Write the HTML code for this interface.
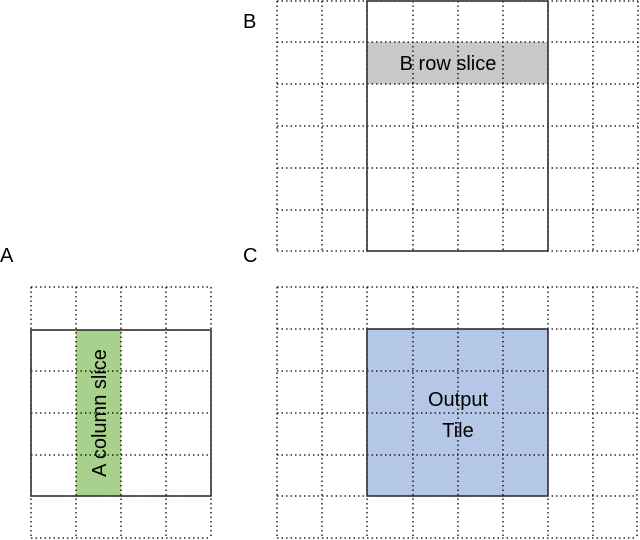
<!DOCTYPE html>
<html><head><style>html,body{margin:0;padding:0;background:#fff}svg{display:block}</style></head>
<body>
<svg width="640" height="540" viewBox="0 0 640 540" xmlns="http://www.w3.org/2000/svg" font-family="'Liberation Sans', sans-serif">
<rect x="367" y="42" width="181" height="42" fill="#c8c8c8"/>
<rect x="76" y="330" width="45" height="166" fill="#a9d18e"/>
<rect x="367" y="329" width="181" height="167" fill="#b4c7e7"/>
<g stroke="#000" stroke-width="1.3" stroke-dasharray="1.5,3" fill="none">
<!-- B grid -->
<path d="M277 1V251M322 1V251M367 1V251M413 1V251M458 1V251M503 1V251M548 1V251M593 1V251M638 1V251"/>
<path d="M277 1H638M277 42H638M277 84H638M277 126H638M277 168H638M277 210H638M277 251H638"/>
<!-- A grid -->
<path d="M31 287V538M76 287V538M121 287V538M166 287V538M211 287V538"/>
<path d="M31 287H211M31 330H211M31 371H211M31 413H211M31 455H211M31 496H211M31 538H211"/>
<!-- C grid -->
<path d="M277 287V538M322 287V538M367 287V538M413 287V538M458 287V538M503 287V538M548 287V538M593 287V538M637 287V538"/>
<path d="M277 287H637M277 329H637M277 371H637M277 413H637M277 455H637M277 496H637M277 538H637"/>
</g>
<g stroke="#333" stroke-width="1.6" fill="none">
<rect x="367" y="1" width="181" height="250"/>
<rect x="31" y="330" width="180" height="166"/>
<rect x="367" y="329" width="181" height="167"/>
</g>
<g font-size="20" fill="#000">
<text x="243" y="28">B</text>
<text x="0" y="262">A</text>
<text x="243" y="262">C</text>
<text x="448" y="70" text-anchor="middle">B row slice</text>
<text x="458" y="406" text-anchor="middle">Output</text>
<text x="458" y="437" text-anchor="middle">Tile</text>
<text transform="translate(106,413) rotate(-90)" text-anchor="middle">A column slice</text>
</g>
</svg>
</body></html>
